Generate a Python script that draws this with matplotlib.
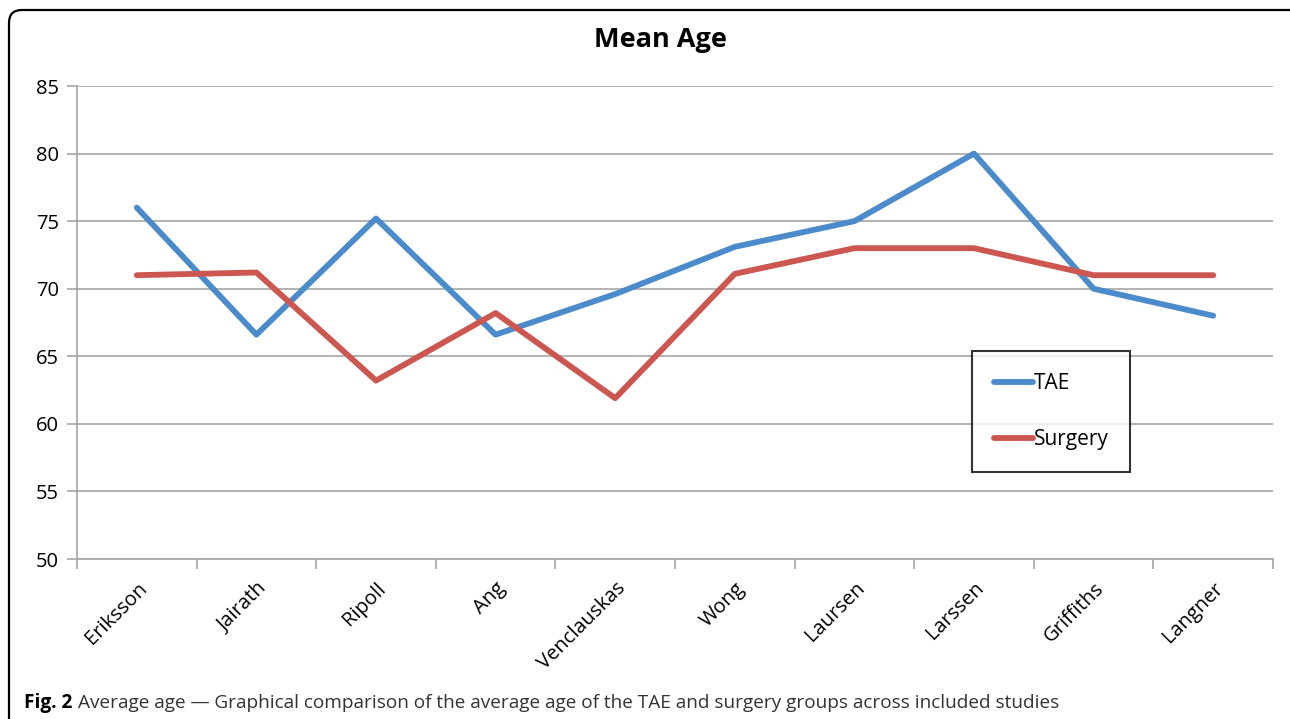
import matplotlib
matplotlib.use("Agg")
import matplotlib.pyplot as plt
from matplotlib.patches import FancyBboxPatch
import numpy as np

studies = ["Eriksson", "Jairath", "Ripoll", "Ang", "Venclauskas",
           "Wong", "Laursen", "Larssen", "Griffiths", "Langner"]
tae = [76.0, 66.6, 75.2, 66.6, 69.6, 73.1, 75.0, 80.0, 70.0, 68.0]
surgery = [71.0, 71.2, 63.2, 68.2, 61.9, 71.1, 73.0, 73.0, 71.0, 71.0]

plt.rcParams['font.family'] = ['Open Sans', 'DejaVu Sans']

fig = plt.figure(figsize=(12.9, 7.19), dpi=100)
ax = fig.add_axes([77 / 1290, 1 - 559 / 719, (1273 - 77) / 1290, (559 - 86) / 719])

x = np.arange(len(studies))
ax.plot(x, tae, color="#4C8BCB", lw=4.2, solid_capstyle="round", label="TAE", zorder=3)
ax.plot(x, surgery, color="#CC5650", lw=4.2, solid_capstyle="round", label="Surgery", zorder=3)

grid_col = "#A6A6A6"
ax.set_xlim(-0.5, len(studies) - 0.5)
ax.set_ylim(50, 85)
ax.set_yticks(np.arange(50, 86, 5))
ax.grid(axis="y", color=grid_col, lw=1.2)
ax.set_axisbelow(True)

# category labels at centres, ticks on the boundaries
ax.set_xticks(x)
ax.set_xticklabels(studies, rotation=45, ha="right", rotation_mode="anchor", fontsize=14.5)
ax.set_xticks(np.arange(-0.5, len(studies)), minor=True)
ax.tick_params(axis="x", which="major", length=0, pad=14)
ax.tick_params(axis="x", which="minor", length=7, color=grid_col, width=1.2)
ax.tick_params(axis="y", length=7, color=grid_col, width=1.2, labelsize=14.5, pad=6)

for side in ["top", "right"]:
    ax.spines[side].set_visible(False)
for side in ["left", "bottom"]:
    ax.spines[side].set_color(grid_col)
    ax.spines[side].set_linewidth(1.2)

ax.set_title("Mean Age", fontsize=19.5, fontweight="bold", pad=28, x=0.488)

leg = ax.legend(loc="upper left", bbox_to_anchor=(972 / 1290, 1 - 351 / 719),
                bbox_transform=fig.transFigure, fontsize=15, frameon=True,
                fancybox=False, edgecolor="black", handlelength=1.9,
                handletextpad=0.0, labelspacing=1.7, borderpad=1.05, borderaxespad=0)
leg.get_frame().set_linewidth(1.5)

# rounded border around the panel
border = FancyBboxPatch((9 / 1290, -0.05), 1.05, 1 - 10 / 719 + 0.05,
                        boxstyle="round,pad=0,rounding_size=0.01",
                        mutation_aspect=1290 / 719, transform=fig.transFigure,
                        fill=False, edgecolor="black", lw=1.6, clip_on=False)
fig.patches.append(border)

t1 = fig.text(24 / 1290, 1 - 703 / 719, "Fig. 2", fontsize=13.7, fontweight="bold",
              va="center", ha="left")
ax.annotate("Average age \u2014 Graphical comparison of the average age of the TAE and surgery groups across included studies",
            xy=(1, 0.5), xycoords=t1, xytext=(4, 0), textcoords="offset points",
            va="center", ha="left", fontsize=13.7, color="#333333", annotation_clip=False)

fig.savefig("out.png", dpi=100)
